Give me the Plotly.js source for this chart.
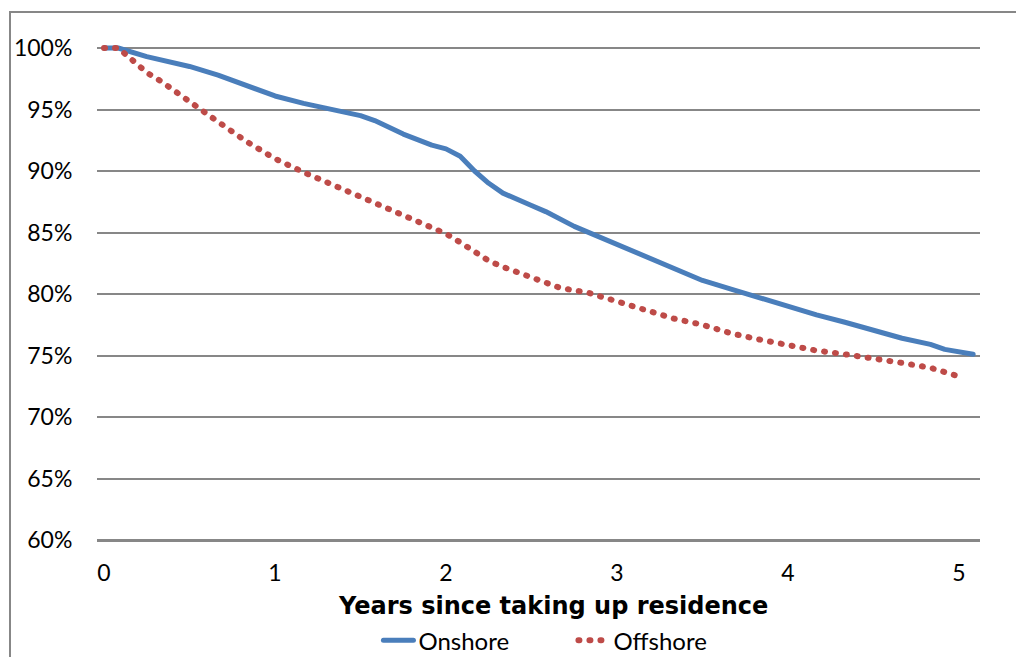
<!DOCTYPE html>
<html>
<head>
<meta charset="utf-8">
<script src="https://cdn.plot.ly/plotly-3.0.1.min.js"></script>
<style>
  html, body { margin: 0; padding: 0; background: #fff; overflow: hidden; }
  #chart { position: absolute; left: 0; top: 0; width: 1016px; height: 657px; }
  #frame { position: absolute; left: 9px; top: 11px; width: 1020px; height: 660px;
           border-left: 2px solid #878787; border-top: 2px solid #878787; pointer-events: none; }
  path.js-line, .legendlines path { stroke-linecap: round; stroke-linejoin: round; }
</style>
</head>
<body>
<div id="chart"></div>
<div id="frame"></div>
<script>
// Years since taking up residence
const onshoreYears = [0, 0.083, 0.25, 0.5, 0.667, 0.833, 1.0, 1.167, 1.333, 1.5, 1.583, 1.75, 1.917, 2.0, 2.083,
  2.167, 2.25, 2.333, 2.5, 2.583, 2.75, 2.917, 3.0, 3.167, 3.333, 3.5, 3.667, 3.833, 4.0, 4.167, 4.333, 4.5,
  4.667, 4.833, 4.917, 5.083];
const onshoreShare = [1.000, 1.000, 0.993, 0.985, 0.978, 0.969, 0.961, 0.955, 0.950, 0.945, 0.941, 0.930, 0.921, 0.918, 0.912,
  0.900, 0.890, 0.882, 0.872, 0.867, 0.855, 0.845, 0.840, 0.831, 0.821, 0.811, 0.804, 0.797, 0.789, 0.783, 0.777, 0.770,
  0.764, 0.759, 0.755, 0.751];

const offshoreYears = [0, 0.083, 0.167, 0.25, 0.333, 0.5, 0.667, 0.833, 1.0, 1.167, 1.333, 1.5, 1.667, 1.833, 2.0,
  2.083, 2.167, 2.25, 2.333, 2.5, 2.667, 2.833, 3.0, 3.167, 3.333, 3.5, 3.667, 3.833, 4.0, 4.167, 4.333, 4.5,
  4.667, 4.833, 5.0];
const offshoreShare = [1.000, 1.000, 0.990, 0.980, 0.973, 0.956, 0.940, 0.924, 0.910, 0.899, 0.889, 0.879, 0.869, 0.859, 0.849,
  0.842, 0.834, 0.827, 0.822, 0.813, 0.805, 0.801, 0.794, 0.786, 0.780, 0.775, 0.768, 0.763, 0.758, 0.754, 0.751, 0.748,
  0.744, 0.740, 0.733];

const seriesNames = ["Onshore", "Offshore"];
const xTickVals = [0, 1, 2, 3, 4, 5];
const yTickStart = 0.60, yTickStep = 0.05, yTickEnd = 1.00;
const xAxisTitle = "Years since taking up residence";

const tickFont = { family: "Lato, 'Open Sans', sans-serif", size: 23, color: "#000" };
const legendFont = { family: "Lato, 'Open Sans', sans-serif", size: 24, color: "#000" };
const gridColor = "#878787";

const traces = [
  { x: onshoreYears, y: onshoreShare, name: seriesNames[0], type: "scatter", mode: "lines",
    line: { color: "#4A7EBB", width: 5 }, hoverinfo: "x+y" },
  { x: offshoreYears, y: offshoreShare, name: seriesNames[1], type: "scatter", mode: "lines",
    line: { color: "#BE4B48", width: 6, dash: "1px,10px" }, hoverinfo: "x+y" }
];

const layout = {
  width: 1016, height: 657,
  margin: { l: 97, r: 36, t: 40, b: 117 },
  paper_bgcolor: "#fff", plot_bgcolor: "#fff",
  showlegend: true,
  xaxis: {
    range: [-0.041, 5.123], tickvals: xTickVals, ticktext: xTickVals.map(String),
    showgrid: false, zeroline: false, automargin: false,
    showline: true, linecolor: gridColor, linewidth: 2,
    ticks: "outside", ticklen: 11, tickcolor: "rgba(0,0,0,0)",
    tickfont: tickFont
  },
  yaxis: {
    range: [yTickStart, 1.0065], tickmode: "linear", tick0: yTickStart, dtick: yTickStep, tickformat: ".0%",
    showgrid: true, gridcolor: gridColor, gridwidth: 2, zeroline: false, showline: false, automargin: false,
    ticks: "outside", ticklen: 19, tickcolor: "rgba(0,0,0,0)",
    tickfont: tickFont
  },
  shapes: [{
    // lowest horizontal gridline (60%)
    type: "line", xref: "paper", yref: "y", x0: 0, x1: 1, y0: yTickStart, y1: yTickStart,
    line: { color: gridColor, width: 2 }, layer: "above"
  }],
  annotations: [{
    text: "<b>" + xAxisTitle + "</b>", xref: "paper", yref: "paper",
    x: 0.5164, xanchor: "center", y: -66 / 500, yanchor: "middle", showarrow: false,
    font: { family: "'DejaVu Sans', Verdana, sans-serif", size: 24, color: "#000" }
  }],
  legend: {
    orientation: "h", xref: "container", yref: "container",
    x: 0.5644, xanchor: "center", y: 0.025, yanchor: "middle",
    font: legendFont, bgcolor: "rgba(0,0,0,0)", entrywidth: 150, entrywidthmode: "pixels", tracegroupgap: 0
  }
};

Plotly.newPlot("chart", traces, layout, { displayModeBar: false, staticPlot: true });
</script>
</body>
</html>
